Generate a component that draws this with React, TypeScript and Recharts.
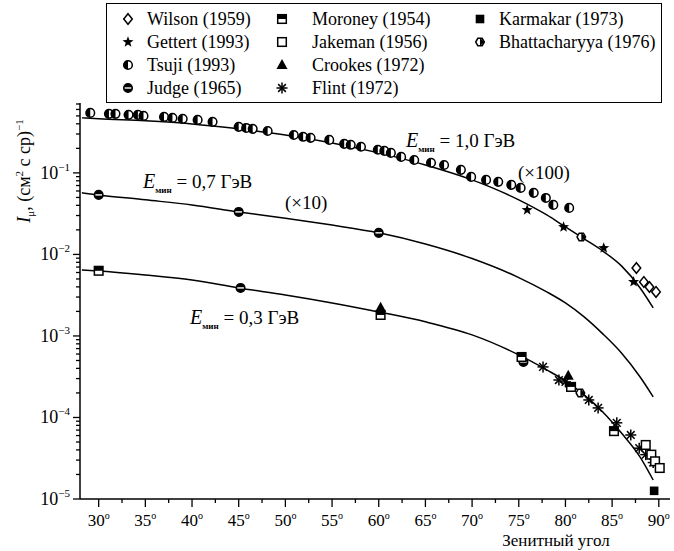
import {
  ComposedChart,
  Line,
  Scatter,
  XAxis,
  YAxis,
  Legend,
  Customized,
} from "recharts";

const FONT = '"Liberation Serif", "Times New Roman", serif';

// ──────────────────────────────────────────────
// Data (zenith angle in degrees, intensity in cm^-2 s^-1 sr^-1)
// ──────────────────────────────────────────────

const curveAngles = [28.2, 30, 35, 40, 45, 50, 55, 60, 65, 70, 75, 78, 80, 82, 84, 86, 88, 89.4];
// E_min = 1.0 GeV (x100)
const curve10 = [0.473, 0.46, 0.435, 0.399, 0.347, 0.292, 0.233, 0.176, 0.125, 0.082, 0.0467, 0.0305, 0.0217, 0.0155, 0.011, 0.00723, 0.00388, 0.00221];
// E_min = 0.7 GeV (x10)
const curve07 = [0.0569, 0.0537, 0.0467, 0.0405, 0.0332, 0.0278, 0.0229, 0.0184, 0.0134, 0.0089, 0.0052, 0.00347, 0.00254, 0.00171, 0.00106, 0.000618, 0.000314, 0.000179];
// E_min = 0.3 GeV
const curve03 = [0.00645, 0.00628, 0.0056, 0.00486, 0.00388, 0.00318, 0.00254, 0.00197, 0.00149, 0.00103, 0.000585, 0.000383, 0.000281, 0.000189, 0.000117, 0.0000645, 0.0000327, 0.0000171];

const wilsonAngles = [87.6, 88.4, 89.0, 89.7];
const wilsonValues = [0.00682, 0.0046, 0.00399, 0.00347];

const gettertAngles = [75.9, 79.8, 84.1, 87.3];
const gettertValues = [0.0351, 0.0217, 0.012, 0.0046];

const tsujiAngles = [29.1, 31.1, 31.8, 33.2, 34.2, 34.8, 37.0, 37.9, 39.0, 40.6, 42.2, 45.0, 45.8, 46.5, 48.1, 50.9, 51.9, 52.7, 54.7, 56.3, 57.0, 58.1, 59.9, 60.6, 61.3, 62.4, 63.8, 65.6, 67.0, 68.8, 69.9, 71.5, 72.8, 74.2, 75.2, 76.6, 77.9, 78.7, 80.4];
const tsujiValues = [0.544, 0.53, 0.53, 0.515, 0.515, 0.5, 0.486, 0.473, 0.46, 0.447, 0.423, 0.367, 0.356, 0.347, 0.327, 0.292, 0.277, 0.269, 0.254, 0.227, 0.221, 0.209, 0.192, 0.186, 0.176, 0.157, 0.144, 0.133, 0.125, 0.109, 0.0893, 0.082, 0.0776, 0.0713, 0.0655, 0.0569, 0.0493, 0.0405, 0.0372];

const judgeAngles = [30, 45, 60, 45.2, 75.5];
const judgeValues = [0.0537, 0.0332, 0.0184, 0.00388, 0.00048];

const moroneyAngles = [30, 60.2, 75.3, 80.6, 85.2];
const moroneyValues = [0.0063, 0.00181, 0.000552, 0.000237, 0.000068];

const jakemanAngles = [88.6, 89.2, 89.6, 90.1];
const jakemanValues = [0.000046, 0.000035, 0.000029, 0.000024];

const crookesAngles = [60.2, 80.3];
const crookesValues = [0.00221, 0.000324];

const flintAngles = [77.6, 79.3, 80.0, 82.5, 83.5, 85.5, 87.0, 87.9, 88.6, 89.4];
const flintValues = [0.000417, 0.000288, 0.000273, 0.000164, 0.000131, 0.000086, 0.000061, 0.000042, 0.000035, 0.000028];

const karmakarAngles = [89.5];
const karmakarValues = [0.0000126];

const bhattAngles = [81.7, 81.6];
const bhattValues = [0.0164, 0.0002];

const xTicks = [30, 32.5, 35, 37.5, 40, 42.5, 45, 47.5, 50, 52.5, 55, 57.5, 60, 62.5, 65, 67.5, 70, 72.5, 75, 77.5, 80, 82.5, 85, 87.5, 90];
const yDecades = [-5, -4, -3, -2, -1];

// ──────────────────────────────────────────────
// Helpers
// ──────────────────────────────────────────────

const zip = (xs: number[], ys: number[]) => xs.map((x, i) => ({ x, y: ys[i] }));

const yTicks: number[] = [];
for (const d of yDecades) {
  for (let m = 1; m <= 9; m++) {
    const v = m * Math.pow(10, d);
    if (v <= 0.72) yTicks.push(v);
  }
}

type Kind =
  | "wilson"
  | "gettert"
  | "tsuji"
  | "judge"
  | "moroney"
  | "jakeman"
  | "crookes"
  | "flint"
  | "karmakar"
  | "bhatt";

function Marker({ kind, cx, cy }: { kind: Kind; cx: number; cy: number }) {
  const s = 4.3;
  const sw = 1.5;
  switch (kind) {
    case "wilson":
      return (
        <path
          d={`M${cx},${cy - s - 1} L${cx + s},${cy} L${cx},${cy + s + 1} L${cx - s},${cy} Z`}
          fill="#fff"
          stroke="#000"
          strokeWidth={sw}
        />
      );
    case "gettert": {
      const pts: string[] = [];
      for (let i = 0; i < 10; i++) {
        const r = i % 2 === 0 ? 5.8 : 2.4;
        const a = -Math.PI / 2 + (i * Math.PI) / 5;
        pts.push(`${cx + r * Math.cos(a)},${cy + r * Math.sin(a)}`);
      }
      return <polygon points={pts.join(" ")} fill="#000" />;
    }
    case "tsuji":
      return (
        <g>
          <circle cx={cx} cy={cy} r={s} fill="#fff" stroke="#000" strokeWidth={sw} />
          <path d={`M${cx},${cy - s} A${s},${s} 0 0 0 ${cx},${cy + s} Z`} fill="#000" />
        </g>
      );
    case "judge":
      return (
        <g>
          <circle cx={cx} cy={cy} r={s} fill="#000" stroke="#000" strokeWidth={sw} />
          <line x1={cx - s + 1} x2={cx + s - 1} y1={cy} y2={cy} stroke="#fff" strokeWidth={1.4} />
        </g>
      );
    case "moroney":
      return (
        <g>
          <rect x={cx - s} y={cy - s} width={2 * s} height={2 * s} fill="#fff" stroke="#000" strokeWidth={sw} />
          <rect x={cx - s} y={cy - s} width={2 * s} height={s} fill="#000" />
        </g>
      );
    case "jakeman":
      return (
        <rect x={cx - s} y={cy - s} width={2 * s} height={2 * s} fill="#fff" stroke="#000" strokeWidth={sw} />
      );
    case "crookes":
      return (
        <polygon
          points={`${cx},${cy - 6} ${cx + 5.5},${cy + 4} ${cx - 5.5},${cy + 4}`}
          fill="#000"
        />
      );
    case "flint": {
      const r = 5.5;
      return (
        <g stroke="#000" strokeWidth={1.5}>
          <line x1={cx - r} x2={cx + r} y1={cy} y2={cy} />
          <line x1={cx} x2={cx} y1={cy - r} y2={cy + r} />
          <line x1={cx - r * 0.7} x2={cx + r * 0.7} y1={cy - r * 0.7} y2={cy + r * 0.7} />
          <line x1={cx - r * 0.7} x2={cx + r * 0.7} y1={cy + r * 0.7} y2={cy - r * 0.7} />
        </g>
      );
    }
    case "karmakar":
      return <rect x={cx - s} y={cy - s} width={2 * s} height={2 * s} fill="#000" />;
    case "bhatt": {
      const pts: string[] = [];
      for (let i = 0; i < 6; i++) {
        const a = (i * Math.PI) / 3;
        pts.push(`${cx + s * Math.cos(a)},${cy + s * Math.sin(a)}`);
      }
      return (
        <g>
          <polygon points={pts.join(" ")} fill="#fff" stroke="#000" strokeWidth={sw} />
          <path d={`M${cx},${cy - s} L${cx + s},${cy} L${cx},${cy + s} Z`} fill="#000" />
        </g>
      );
    }
  }
  return null;
}

const shape = (kind: Kind) => (p: any) => <Marker kind={kind} cx={p.cx} cy={p.cy} />;

function YTick(props: any) {
  const { x, y, payload } = props;
  const v = payload.value as number;
  const exp = Math.round(Math.log10(v));
  const major = Math.abs(v - Math.pow(10, exp)) < v * 1e-6;
  return (
    <g>
      <line x1={x} x2={x - (major ? 7 : 4)} y1={y} y2={y} stroke="#000" strokeWidth={1.3} />
      {major && (
        <text x={x - 10} y={y + 6} textAnchor="end" fontSize={18} fontFamily={FONT} fill="#000">
          10
          <tspan dy={-8} fontSize={11}>
            {"\u2212" + -exp}
          </tspan>
        </text>
      )}
    </g>
  );
}

function XTick(props: any) {
  const { x, y, payload } = props;
  const v = payload.value as number;
  const major = v % 5 === 0;
  return (
    <g>
      <line x1={x} x2={x} y1={y} y2={y + (major ? 8 : 4)} stroke="#000" strokeWidth={1.3} />
      {major && (
        <text x={x} y={y + 27} textAnchor="middle" fontSize={17} fontFamily={FONT} fill="#000">
          {v}
          <tspan dy={-7} fontSize={10}>
            o
          </tspan>
        </text>
      )}
    </g>
  );
}

const legendItems: { kind: Kind; label: string; col: number; row: number }[] = [
  { kind: "wilson", label: "Wilson (1959)", col: 0, row: 0 },
  { kind: "gettert", label: "Gettert (1993)", col: 0, row: 1 },
  { kind: "tsuji", label: "Tsuji (1993)", col: 0, row: 2 },
  { kind: "judge", label: "Judge (1965)", col: 0, row: 3 },
  { kind: "moroney", label: "Moroney (1954)", col: 1, row: 0 },
  { kind: "jakeman", label: "Jakeman (1956)", col: 1, row: 1 },
  { kind: "crookes", label: "Crookes (1972)", col: 1, row: 2 },
  { kind: "flint", label: "Flint (1972)", col: 1, row: 3 },
  { kind: "karmakar", label: "Karmakar (1973)", col: 2, row: 0 },
  { kind: "bhatt", label: "Bhattacharyya (1976)", col: 2, row: 1 },
];
const colMarkerX = [21, 175, 373];
const colTextX = [40, 205, 392];

function LegendBox() {
  return (
    <div
      style={{
        position: "relative",
        width: 556,
        height: 100,
        border: "1.5px solid #000",
        boxSizing: "border-box",
        fontFamily: FONT,
        fontSize: 18,
        color: "#000",
        background: "#fff",
      }}
    >
      {legendItems.map((it) => (
        <div key={it.label}>
          <svg
            width={16}
            height={16}
            style={{ position: "absolute", left: colMarkerX[it.col] - 8, top: 15 + it.row * 23 - 8 }}
          >
            <Marker kind={it.kind} cx={8} cy={8} />
          </svg>
          <span
            style={{
              position: "absolute",
              left: colTextX[it.col],
              top: 15 + it.row * 23 - 11,
              lineHeight: "22px",
              whiteSpace: "nowrap",
            }}
          >
            {it.label}
          </span>
        </div>
      ))}
    </div>
  );
}

function EminLabel({ x, y, value }: { x: number; y: number; value: string }) {
  return (
    <text x={x} y={y} fontFamily={FONT} fill="#000" fontSize={19}>
      <tspan fontStyle="italic" fontSize={20}>
        E
      </tspan>
      <tspan dy={5} fontSize={9} fontWeight="bold">
        мин
      </tspan>
      <tspan dy={-5}>{" = " + value + " ГэВ"}</tspan>
    </text>
  );
}

function Annotations() {
  return (
    <g>
      <EminLabel x={406} y={147} value="1,0" />
      <text x={518} y={179} fontFamily={FONT} fontSize={19} fill="#000">
        (×100)
      </text>
      <EminLabel x={143} y={188} value="0,7" />
      <text x={285} y={209} fontFamily={FONT} fontSize={19} fill="#000">
        (×10)
      </text>
      <EminLabel x={190} y={324} value="0,3" />
      <text x={556} y={546} textAnchor="middle" fontFamily={FONT} fontSize={17} fill="#000">
        Зенитный угол
      </text>
      <text
        x={30}
        y={171}
        textAnchor="middle"
        transform="rotate(-90, 30, 171)"
        fontFamily={FONT}
        fontSize={18}
        fill="#000"
      >
        <tspan fontStyle="italic">I</tspan>
        <tspan dy={4} fontSize={11}>
          μ
        </tspan>
        <tspan dy={-4}>, (см</tspan>
        <tspan dy={-7} fontSize={11}>
          2
        </tspan>
        <tspan dy={7}> с ср)</tspan>
        <tspan dy={-7} fontSize={11}>
          −1
        </tspan>
      </text>
    </g>
  );
}

// ──────────────────────────────────────────────
// Component
// ──────────────────────────────────────────────

export default function App() {
  const lineProps = {
    dataKey: "y",
    type: "monotone" as const,
    stroke: "#000",
    strokeWidth: 1.5,
    dot: false,
    activeDot: false,
    isAnimationActive: false,
    legendType: "none" as const,
  };
  return (
    <div style={{ position: "absolute", left: 0, top: 0, width: 674, height: 551, background: "#fff" }}>
      <ComposedChart width={674} height={551} margin={{ top: 103, right: 4, bottom: 0, left: 0 }}>
        <XAxis
          type="number"
          dataKey="x"
          domain={[28, 91.2]}
          ticks={xTicks}
          interval={0}
          allowDataOverflow
          height={52}
          tickSize={0}
          tickMargin={0}
          tickLine={false}
          tick={<XTick />}
          axisLine={{ stroke: "#000", strokeWidth: 1.5 }}
        />
        <YAxis
          type="number"
          dataKey="y"
          scale="log"
          domain={[1e-5, 0.72]}
          ticks={yTicks}
          interval={0}
          allowDataOverflow
          width={80}
          tickSize={0}
          tickMargin={0}
          tickLine={false}
          tick={<YTick />}
          axisLine={{ stroke: "#000", strokeWidth: 1.5 }}
        />
        <Line data={zip(curveAngles, curve10)} {...lineProps} />
        <Line data={zip(curveAngles, curve07)} {...lineProps} />
        <Line data={zip(curveAngles, curve03)} {...lineProps} />
        <Scatter data={zip(tsujiAngles, tsujiValues)} shape={shape("tsuji")} isAnimationActive={false} />
        <Scatter data={zip(gettertAngles, gettertValues)} shape={shape("gettert")} isAnimationActive={false} />
        <Scatter data={zip(wilsonAngles, wilsonValues)} shape={shape("wilson")} isAnimationActive={false} />
        <Scatter data={zip(judgeAngles, judgeValues)} shape={shape("judge")} isAnimationActive={false} />
        <Scatter data={zip(moroneyAngles, moroneyValues)} shape={shape("moroney")} isAnimationActive={false} />
        <Scatter data={zip(crookesAngles, crookesValues)} shape={shape("crookes")} isAnimationActive={false} />
        <Scatter data={zip(bhattAngles, bhattValues)} shape={shape("bhatt")} isAnimationActive={false} />
        <Scatter data={zip(flintAngles, flintValues)} shape={shape("flint")} isAnimationActive={false} />
        <Scatter data={zip(jakemanAngles, jakemanValues)} shape={shape("jakeman")} isAnimationActive={false} />
        <Scatter data={zip(karmakarAngles, karmakarValues)} shape={shape("karmakar")} isAnimationActive={false} />
        <Legend
          layout="vertical"
          align="center"
          verticalAlign="middle"
          content={() => <LegendBox />}
          wrapperStyle={{ left: 106, top: 3, width: 556, height: 100 }}
        />
        <Customized component={Annotations} />
      </ComposedChart>
    </div>
  );
}
